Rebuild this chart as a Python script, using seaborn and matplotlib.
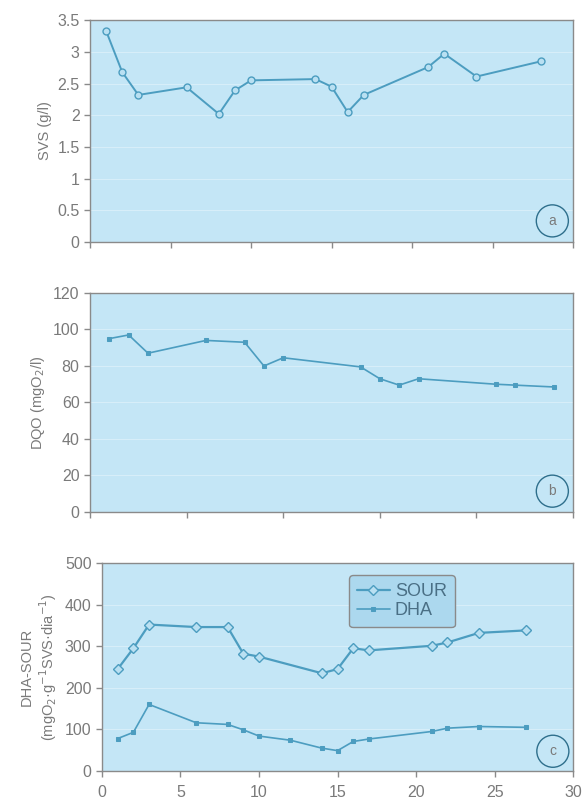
import pandas as pd
import seaborn as sns
import matplotlib.pyplot as plt

# dias de muestreo y valores
dias_svs = [1, 2, 3, 6, 8, 9, 10, 14, 15, 16, 17, 21, 22, 24, 28]
svs = [3.33, 2.68, 2.32, 2.44, 2.02, 2.39, 2.55, 2.57, 2.45, 2.05, 2.32, 2.76, 2.97, 2.61, 2.85]

dias_dqo = [1, 2, 3, 6, 8, 9, 10, 14, 15, 16, 17, 21, 22, 24]
dqo = [95, 97, 87, 94, 93, 80, 84.5, 79.5, 73, 69.5, 73, 70, 69.5, 68.5]

dias_sour = [1, 2, 3, 6, 8, 9, 10, 14, 15, 16, 17, 21, 22, 24, 27]
sour = [245, 295, 352, 346, 346, 282, 275, 235, 245, 295, 290, 301, 309, 332, 338]

dias_dha = [1, 2, 3, 6, 8, 9, 10, 12, 14, 15, 16, 17, 21, 22, 24, 27]
dha = [78, 93, 160, 116, 112, 99, 84, 74, 55, 49, 71, 77, 95, 103, 107, 105]

x_ticks_ac = [0, 5, 10, 15, 20, 25, 30]
x_ticks_b = [0, 5, 10, 15, 20, 25]

fondo = "#c4e6f6"
linea = "#4c9dc0"
gris = "#8a8a8a"
texto = "#7a7a7a"

sns.set_theme(style="ticks")
plt.rcParams["font.family"] = ["Liberation Sans", "DejaVu Sans"]

fig = plt.figure(figsize=(5.86, 8.06), dpi=100)
ax_a = fig.add_axes([0.1536, 0.6998, 0.8244, 0.2752])
ax_b = fig.add_axes([0.1536, 0.3648, 0.8244, 0.2717])
ax_c = fig.add_axes([0.1740, 0.0434, 0.8040, 0.2581])


def estilo(ax, yticks, ylabel, letra, xticks, xlabels=False):
    ax.set_facecolor(fondo)
    for s in ax.spines.values():
        s.set_color(gris)
        s.set_linewidth(1.0)
    ax.set_xlim(xticks[0], xticks[-1])
    ax.set_xticks(xticks)
    ax.set_ylim(yticks[0], yticks[-1])
    ax.set_yticks(yticks)
    ax.set_yticklabels([("%g" % t) for t in yticks])
    if not xlabels:
        ax.set_xticklabels([])
    ax.tick_params(direction="out", length=4, width=1, color=gris,
                   labelcolor=texto, labelsize=11.5)
    ax.yaxis.grid(True, color="white", alpha=0.4, linewidth=0.6)
    ax.set_xlabel("")
    ax.set_ylabel(ylabel, color=texto, fontsize=10.5, labelpad=4)
    ax.text(0.957, 0.095, letra, transform=ax.transAxes, ha="center", va="center",
            fontsize=10, color=texto,
            bbox=dict(boxstyle="circle,pad=0.65", fc=fondo, ec="#2e6f8c", lw=1.0))


# (a) SVS
sns.lineplot(x=dias_svs, y=svs, ax=ax_a, color=linea, linewidth=1.4, marker="o",
             markersize=5, markerfacecolor="#b9e0f2", markeredgecolor=linea,
             markeredgewidth=1.0)
estilo(ax_a, [0, 0.5, 1, 1.5, 2, 2.5, 3, 3.5], "SVS (g/l)", "a", x_ticks_ac)

# (b) DQO
sns.lineplot(x=dias_dqo, y=dqo, ax=ax_b, color=linea, linewidth=1.2, marker="s",
             markersize=3.2, markerfacecolor=linea, markeredgecolor=linea)
estilo(ax_b, [0, 20, 40, 60, 80, 100, 120], "DQO (mgO$_2$/l)", "b", x_ticks_b)

# (c) SOUR y DHA
sns.lineplot(x=dias_sour, y=sour, ax=ax_c, color=linea, linewidth=1.6, marker="D",
             markersize=5, markerfacecolor="#b9e0f2", markeredgecolor=linea,
             markeredgewidth=1.0, label="SOUR")
sns.lineplot(x=dias_dha, y=dha, ax=ax_c, color=linea, linewidth=1.2, marker="s",
             markersize=3.2, markerfacecolor=linea, markeredgecolor=linea,
             label="DHA")
estilo(ax_c, [0, 100, 200, 300, 400, 500],
       "DHA-SOUR\n(mgO$_2$·g$^{-1}$SVS·dia$^{-1}$)", "c", x_ticks_ac, xlabels=True)
ax_c.tick_params(axis="x", pad=6)

leg = ax_c.legend(loc="upper left", bbox_to_anchor=(0.505, 0.985), frameon=True,
                  fancybox=True, fontsize=13, handlelength=1.8, handletextpad=0.3,
                  borderpad=0.45, labelspacing=0.1)
leg.get_frame().set_facecolor("#acd8ee")
leg.get_frame().set_edgecolor(gris)
leg.get_frame().set_alpha(1)
for t in leg.get_texts():
    t.set_color("#4a6f85")

fig.savefig("out.png", dpi=100, facecolor="white")
